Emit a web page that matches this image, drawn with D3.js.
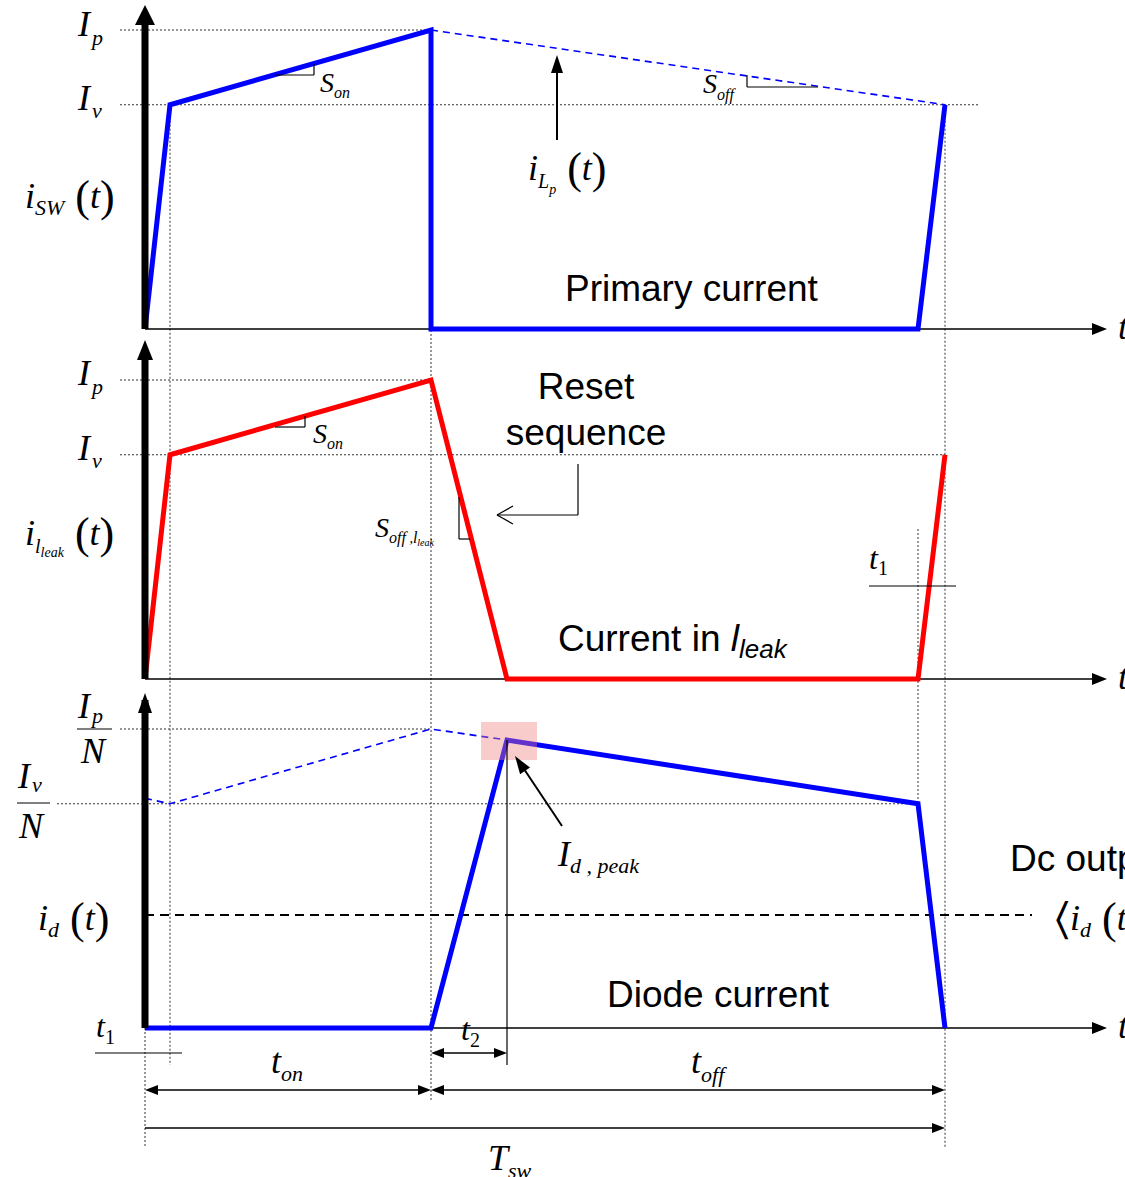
<!DOCTYPE html>
<html>
<head>
<meta charset="utf-8">
<script src="https://cdn.jsdelivr.net/npm/d3@7"></script>
<style>
  body { margin: 0; background: #fff; overflow: hidden; }
</style>
</head>
<body>
<script>
// time points (normalized, Tsw = 8)
var tOn = 2.86, tRise = 0.25, tPeak = 3.62, tNext = 7.73, tSw = 8.0;
// normalized currents: Ip = 1, Iv = 0.75
var Ip = 1.0, Iv = 0.75;

var primaryT = [0, tRise, tOn, tOn, tNext, tSw];
var primaryI = [0, Iv, Ip, 0, 0, Iv];
var ilpT = [tOn, tSw];
var ilpI = [Ip, Iv];
var leakT = [0, tRise, tOn, tPeak, tNext, tSw];
var leakI = [0, Iv, Ip, 0, 0, Iv];
var diodeT = [0, tOn, tPeak, tNext, tSw];
var diodeI = [0, 0, 0.963, Iv, 0];
var diodeDashT = [0, tRise, tOn, tPeak];
var diodeDashI = [0.768, Iv, Ip, 0.963];
var avgI = 0.378;

var panelBase = [329, 679, 1028];

var svg = d3.select("body").append("svg")
    .attr("width", 1125)
    .attr("height", 1177);

var x = d3.scaleLinear().domain([0, 8]).range([145, 945]);
function yScale(i) {
    return d3.scaleLinear().domain([0, 1]).range([panelBase[i], panelBase[i] - 299]);
}
var y0 = yScale(0), y1 = yScale(1), y2 = yScale(2);

var serif = "'Liberation Serif', 'Times New Roman', serif";
var sans = "'Liberation Sans', Arial, sans-serif";

function line(x1, yA, x2, yB, opts) {
    opts = opts || {};
    return svg.append("line")
        .attr("x1", x1).attr("y1", yA).attr("x2", x2).attr("y2", yB)
        .attr("stroke", opts.color || "#000")
        .attr("stroke-width", opts.width || 1.2)
        .attr("stroke-dasharray", opts.dash || null);
}
function dotted(x1, yA, x2, yB) {
    line(x1, yA, x2, yB, {color: "#333", width: 1, dash: "2,2"});
}
// filled arrowhead at (tx,ty) pointing along angle from (fx,fy)
function head(fx, fy, tx, ty, len, wid) {
    len = len || 14; wid = wid || 5;
    var a = Math.atan2(ty - fy, tx - fx);
    var bx = tx - len * Math.cos(a), by = ty - len * Math.sin(a);
    var px = -Math.sin(a) * wid, py = Math.cos(a) * wid;
    svg.append("path")
        .attr("d", "M" + tx + "," + ty + "L" + (bx + px) + "," + (by + py) + "L" + (bx - px) + "," + (by - py) + "Z")
        .attr("fill", "#000");
}
function mathText(xp, yp, pieces, size) {
    var t = svg.append("text").attr("x", xp).attr("y", yp)
        .attr("font-family", serif)
        .attr("font-size", size || 36);
    var cur = 0;
    pieces.forEach(function(p) {
        var ts = t.append("tspan").text(p.s);
        if (p.size) ts.attr("font-size", p.size);
        if (p.italic !== false) ts.attr("font-style", "italic");
        var d = (p.dy || 0) - cur; cur = p.dy || 0;
        ts.attr("dy", d);
        if (p.dx) ts.attr("dx", p.dx);
    });
    return t;
}
function sansText(xp, yp, s) {
    return svg.append("text").attr("x", xp).attr("y", yp)
        .attr("font-family", sans).attr("font-size", 37).text(s);
}

// ---- guide lines (dotted)
dotted(120, y0(Ip), x(tOn), y0(Ip));
dotted(120, y0(Iv), 980, y0(Iv));
dotted(120, y1(Ip), x(tOn), y1(Ip));
dotted(120, y1(Iv), x(tSw), y1(Iv));
dotted(120, y2(Ip), x(tOn), y2(Ip));
dotted(57, y2(Iv), x(tNext), y2(Iv));
dotted(x(tRise), y0(Iv), x(tRise), 1065);
dotted(x(tOn), y0(Ip), x(tOn), 1100);
dotted(x(tNext), y1(0) - 150, x(tNext), y2(Iv));
dotted(x(tSw), y0(Iv), x(tSw), 1148);
dotted(x(0), y2(0), x(0), 1148);

// ---- horizontal axes
panelBase.forEach(function(b) {
    line(145, b, 1092, b, {width: 1.5});
    head(1080, b, 1107, b, 15, 6);
    mathText(1118, b + 10, [{s: "t"}]);
});

// ---- lines
var lineGen = d3.line().x(function(d) { return x(d[0]); }).y(function(d) { return d[1]; });
function pts(ts, is, ys) { return ts.map(function(t, i) { return [t, ys(is[i])]; }); }

svg.append("path").attr("d", lineGen(pts(ilpT, ilpI, y0)))
    .attr("fill", "none").attr("stroke", "#0000ff").attr("stroke-width", 1.6).attr("stroke-dasharray", "7,5");
svg.append("path").attr("d", lineGen(pts(diodeDashT, diodeDashI, y2)))
    .attr("fill", "none").attr("stroke", "#0000ff").attr("stroke-width", 1.6).attr("stroke-dasharray", "7,5");
// average line
line(x(0), y2(avgI), 1032, y2(avgI), {width: 2, dash: "9,6"});

svg.append("path").attr("d", lineGen(pts(primaryT, primaryI, y0)))
    .attr("fill", "none").attr("stroke", "#0000ff").attr("stroke-width", 5).attr("stroke-linejoin", "miter");
svg.append("path").attr("d", lineGen(pts(leakT, leakI, y1)))
    .attr("fill", "none").attr("stroke", "#ff0000").attr("stroke-width", 5).attr("stroke-linejoin", "miter");
svg.append("path").attr("d", lineGen(pts(diodeT, diodeI, y2)))
    .attr("fill", "none").attr("stroke", "#0000ff").attr("stroke-width", 5).attr("stroke-linejoin", "miter");

// ---- vertical axes (thick)
line(145, y2(0), 145, 700, {width: 7});
head(145, 720, 145, 693, 20, 7);
line(145, y1(0), 145, 355, {width: 7});
head(145, 370, 145, 340, 20, 8);
line(145, y0(0), 145, 20, {width: 7});
head(145, 40, 145, 5, 20, 10);

// pink highlight
svg.append("rect").attr("x", 481).attr("y", 722).attr("width", 56).attr("height", 38)
    .attr("fill", "#f08080").attr("opacity", 0.4);

// ---- top panel labels
mathText(78, 36, [{s: "I"}, {s: "p", size: 22, dx: 2, dy: 9}]);
mathText(78, 110, [{s: "I"}, {s: "v", size: 22, dx: 2, dy: 8}]);
mathText(25, 208, [{s: "i"}, {s: "SW", size: 22, dy: 7}, {s: " (", italic: false, size: 44, dy: 3}, {s: "t"}, {s: ")", italic: false, size: 44, dy: 3}]);
line(275, 75, 314, 75);
line(314, 75, 314, 64);
mathText(320, 92, [{s: "S", size: 28}, {s: "on", size: 16, dy: 6}]);
line(747, 75, 747, 87);
line(747, 87, 818, 87);
mathText(703, 93, [{s: "S", size: 28}, {s: "off", size: 16, dy: 7}]);
line(557, 140, 557, 70, {width: 2});
head(557, 80, 557, 55, 18, 6);
mathText(528, 180, [{s: "i"}, {s: "L", size: 20, dy: 8}, {s: "p", size: 14, dy: 14}, {s: " (", italic: false, size: 44, dy: 3}, {s: "t"}, {s: ")", italic: false, size: 44, dy: 3}]);
sansText(565, 301, "Primary current");

// ---- middle panel labels
mathText(78, 385, [{s: "I"}, {s: "p", size: 22, dx: 2, dy: 9}]);
mathText(78, 460, [{s: "I"}, {s: "v", size: 22, dx: 2, dy: 8}]);
mathText(25, 545, [{s: "i"}, {s: "l", size: 20, dy: 8}, {s: "leak", size: 14, dy: 12}, {s: " (", italic: false, size: 44, dy: 3}, {s: "t"}, {s: ")", italic: false, size: 44, dy: 3}]);
line(275, 427, 305, 427);
line(305, 427, 305, 416);
mathText(313, 443, [{s: "S", size: 28}, {s: "on", size: 16, dy: 6}]);
sansText(586, 399, "Reset").attr("text-anchor", "middle");
sansText(586, 445, "sequence").attr("text-anchor", "middle");
line(578, 464, 578, 515);
line(578, 515, 497, 515);
line(497, 515, 513, 506);
line(497, 515, 513, 524);
line(459, 497, 459, 539);
line(459, 539, 470, 539);
mathText(375, 537, [{s: "S", size: 28}, {s: "off", size: 16, dy: 6}, {s: " ,", size: 14, dy: 6}, {s: "l", size: 16, dy: 6}, {s: "leak", size: 10, dy: 9}]);
mathText(869, 569, [{s: "t", size: 32}, {s: "1", italic: false, size: 20, dy: 6}]);
line(869, 586, 956, 586);
sansText(558, 651, "").call(function(t) {
    t.append("tspan").text("Current in ");
    t.append("tspan").attr("font-style", "italic").text("l");
    t.append("tspan").attr("font-style", "italic").attr("font-size", 26).attr("dy", 7).text("leak");
});

// ---- bottom panel labels
mathText(78, 718, [{s: "I"}, {s: "p", size: 22, dx: 2, dy: 5}]);
line(77, 729, 112, 729);
mathText(81, 763, [{s: "N"}]);
mathText(18, 788, [{s: "I"}, {s: "v", size: 22, dx: 2, dy: 4}]);
line(17, 803, 50, 803);
mathText(19, 838, [{s: "N"}]);
mathText(38, 930, [{s: "i"}, {s: "d", size: 22, dy: 7}, {s: " (", italic: false, size: 44, dy: 3}, {s: "t"}, {s: ")", italic: false, size: 44, dy: 3}]);
line(562, 826, 522, 766, {width: 2});
head(550, 808, 515, 756, 18, 6);
mathText(558, 866, [{s: "I"}, {s: "d , peak", size: 22, dy: 7}]);
sansText(1010, 871, "Dc output");
mathText(1055, 930, [{s: "\u2329", italic: false, size: 44, dy: 3}, {s: "i"}, {s: "d", size: 22, dy: 7}, {s: " (", italic: false, size: 44, dy: 3}, {s: "t"}]);
sansText(607, 1007, "Diode current");
// t2 marker
line(x(tPeak), y2(0.963), x(tPeak), 1065);

// ---- bottom dimension labels
mathText(96, 1037, [{s: "t", size: 32}, {s: "1", italic: false, size: 20, dy: 7}]);
line(95, 1053, 182, 1053);
mathText(461, 1040, [{s: "t", size: 32}, {s: "2", italic: false, size: 20, dy: 7}]);
line(x(tOn) + 10, 1053, x(tPeak) - 10, 1053, {width: 1.5});
head(x(tPeak), 1053, x(tOn), 1053, 13, 5);
head(x(tOn), 1053, x(tPeak), 1053, 13, 5);

line(x(0) + 10, 1090, x(tOn) - 10, 1090, {width: 1.5});
head(x(tOn), 1090, x(0), 1090, 13, 5);
head(x(0), 1090, x(tOn), 1090, 13, 5);
mathText(271, 1073, [{s: "t"}, {s: "on", size: 22, dy: 8}]);

line(x(tOn) + 10, 1090, x(tSw) - 10, 1090, {width: 1.5});
head(x(tSw), 1090, x(tOn), 1090, 13, 5);
head(x(tOn), 1090, x(tSw), 1090, 13, 5);
mathText(691, 1073, [{s: "t"}, {s: "off", size: 22, dy: 9}]);

line(x(0), 1128, x(tSw) - 10, 1128, {width: 1.5});
head(x(0), 1128, x(tSw), 1128, 13, 5);
mathText(488, 1170, [{s: "T"}, {s: "sw", size: 22, dy: 8}]);
</script>
</body>
</html>
